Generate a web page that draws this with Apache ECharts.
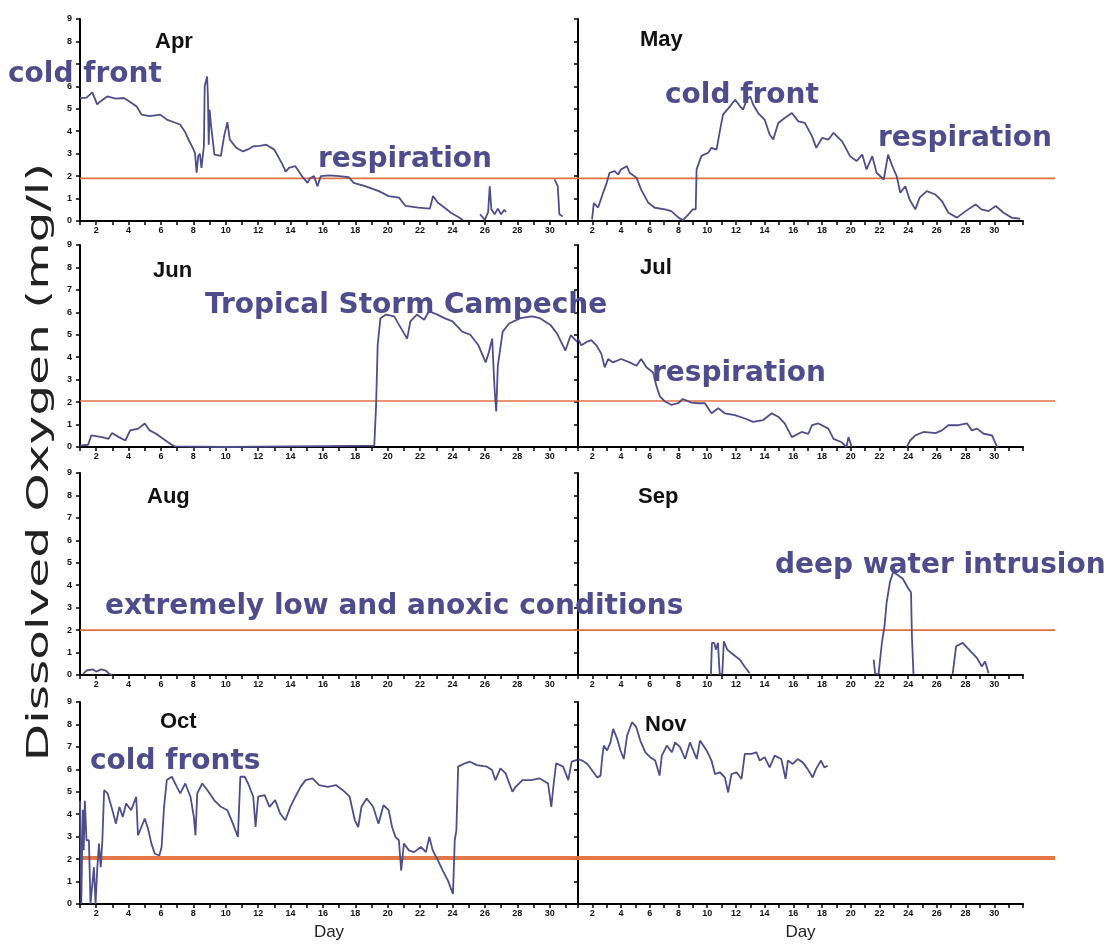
<!DOCTYPE html>
<html>
<head>
<meta charset="utf-8">
<script src="https://cdn.jsdelivr.net/npm/echarts@6/dist/echarts.min.js"></script>
<style>
html,body{margin:0;padding:0;background:#fff;}
#chart{width:1106px;height:945px;}
</style>
</head>
<body>
<div id="chart"></div>
<script>
// ---------------- data (day of month, dissolved oxygen mg/l) ----------------
const months = ['Apr','May','Jun','Jul','Aug','Sep','Oct','Nov'];
const xTickDays = [2,4,6,8,10,12,14,16,18,20,22,24,26,28,30];
const yTickLabels = [0,1,2,3,4,5,6,7,8,9];
const thresholds = [1.9, 2.05, 2.0, 2.05];

const aprDO = [[1,5.48],[1.1,5.4],[1.4,5.5],[1.76,5.73],[2.06,5.2],[2.3,5.35],[2.68,5.55],[3.2,5.45],[3.7,5.48],[4.1,5.3],[4.5,5.1],[4.8,4.74],[5.3,4.67],[5.95,4.74],[6.36,4.52],[6.8,4.4],[7.18,4.3],[7.5,3.95],[7.7,3.63],[8.0,3.2],[8.1,3.04],[8.2,2.15],[8.3,2.9],[8.4,3.0],[8.5,2.37],[8.65,3.33],[8.7,6.0],[8.85,6.44],[8.9,5.5],[8.95,3.4],[9.0,4.96],[9.1,4.2],[9.3,2.96],[9.7,2.9],[9.9,3.78],[10.1,4.4],[10.25,3.63],[10.65,3.26],[11.06,3.1],[11.4,3.2],[11.7,3.33],[12.1,3.35],[12.5,3.4],[13.0,3.18],[13.5,2.52],[13.7,2.2],[13.9,2.37],[14.3,2.44],[14.7,2.0],[15.05,1.7],[15.2,1.9],[15.45,2.0],[15.66,1.55],[15.87,2.0],[16.4,2.03],[17.0,2.0],[17.6,1.95],[17.9,1.7],[18.6,1.55],[19.45,1.33],[20.06,1.11],[20.7,1.04],[21.1,0.67],[21.9,0.6],[22.6,0.55],[22.8,1.11],[23.1,0.81],[23.5,0.6],[23.9,0.37],[24.3,0.2],[24.65,0.04],[24.7,null],[25.6,null],[25.7,0.3],[26.0,0.05],[26.2,0.4],[26.3,1.55],[26.4,0.52],[26.6,0.3],[26.8,0.55],[27.0,0.3],[27.2,0.5],[27.3,0.4],[27.35,null],[30.2,null],[30.3,1.85],[30.5,1.55],[30.6,0.3],[30.8,0.2]];

const mayDO = [[1.98,0.07],[2.1,0.8],[2.4,0.6],[2.75,1.26],[3.0,1.7],[3.2,2.15],[3.55,2.22],[3.8,2.07],[4.0,2.3],[4.4,2.44],[4.6,2.15],[5.07,1.93],[5.4,1.4],[5.9,0.81],[6.35,0.59],[7.05,0.52],[7.5,0.44],[8.0,0.15],[8.3,0.04],[8.7,0.3],[9.0,0.52],[9.2,0.52],[9.26,2.3],[9.6,2.9],[10.07,3.04],[10.3,3.26],[10.65,3.18],[10.9,4.07],[11.1,4.74],[11.5,5.04],[11.95,5.4],[12.3,5.1],[12.5,4.96],[12.75,5.4],[13.0,5.55],[13.2,5.19],[13.55,4.81],[14.0,4.52],[14.35,3.85],[14.6,3.63],[14.95,4.37],[15.4,4.59],[15.9,4.81],[16.35,4.44],[16.8,4.37],[17.3,3.78],[17.6,3.26],[18.0,3.7],[18.45,3.63],[18.8,3.93],[19.4,3.55],[19.95,2.89],[20.4,2.67],[20.8,2.96],[21.1,2.3],[21.5,2.89],[21.8,2.15],[22.3,1.85],[22.6,2.96],[22.9,2.44],[23.2,2.0],[23.45,1.26],[23.8,1.55],[24.1,0.96],[24.5,0.52],[24.8,1.04],[25.3,1.33],[25.9,1.18],[26.35,0.89],[26.8,0.37],[27.4,0.15],[28.0,0.44],[28.7,0.74],[29.1,0.52],[29.6,0.44],[30.1,0.67],[30.65,0.37],[31.2,0.15],[31.8,0.1]];

const junDO = [[1.0,0.06],[1.5,0.1],[1.7,0.52],[2.35,0.44],[2.76,0.36],[2.97,0.62],[3.4,0.44],[3.8,0.29],[4.1,0.74],[4.6,0.82],[5.0,1.05],[5.3,0.74],[5.7,0.59],[6.15,0.36],[6.66,0.1],[6.87,0.03],[10,0.0],[16.1,0.04],[19.17,0.06],[19.28,1.8],[19.38,4.53],[19.55,5.74],[19.9,5.9],[20.4,5.82],[20.7,5.44],[21.2,4.83],[21.4,5.6],[21.8,5.9],[22.25,5.67],[22.55,6.05],[23.07,5.9],[23.5,5.74],[24.0,5.6],[24.6,5.14],[25.1,5.0],[25.6,4.53],[26.05,3.77],[26.25,4.23],[26.45,4.83],[26.6,2.56],[26.7,1.58],[26.8,3.62],[27.1,5.14],[27.5,5.5],[28.2,5.74],[28.9,5.82],[29.4,5.74],[30.05,5.44],[30.45,5.06],[30.97,4.3],[31.3,4.98],[31.7,4.68]];

const julDO = [[1.0,4.83],[1.23,4.53],[1.6,4.68],[1.93,4.76],[2.28,4.53],[2.63,4.15],[2.86,3.55],[3.1,3.92],[3.44,3.77],[4.0,3.92],[4.6,3.77],[5.07,3.62],[5.4,3.92],[5.77,3.55],[6.23,3.32],[6.47,2.71],[6.7,2.26],[7.05,2.03],[7.5,1.88],[7.98,1.95],[8.3,2.14],[8.9,1.98],[9.37,1.95],[9.84,1.95],[10.3,1.5],[10.77,1.73],[11.23,1.5],[11.93,1.42],[12.63,1.27],[13.2,1.12],[13.9,1.2],[14.5,1.5],[14.95,1.35],[15.4,1.05],[15.9,0.44],[16.58,0.67],[17.05,0.59],[17.3,0.97],[17.74,1.05],[18.44,0.82],[18.8,0.36],[19.37,0.21],[19.7,0.0],[19.84,0.44],[20.07,0.0],[20.1,null],[23.85,null],[23.9,0.0],[24.14,0.29],[24.5,0.52],[25.07,0.67],[25.9,0.62],[26.35,0.74],[26.8,0.97],[27.5,0.97],[28.1,1.05],[28.44,0.74],[28.8,0.82],[29.26,0.59],[29.84,0.52],[30.2,0.0]];

const augDO = [[1.2,0.05],[1.4,0.2],[1.8,0.25],[2.0,0.15],[2.3,0.25],[2.6,0.2],[2.8,0.05],[3.0,0.0]];

const sepDO = [[10.26,0.0],[10.33,1.43],[10.5,1.43],[10.6,1.13],[10.75,1.43],[10.87,0.05],[11.05,0.05],[11.16,1.5],[11.4,1.13],[11.83,0.9],[12.28,0.68],[12.6,0.38],[12.96,0.08],[13.0,null],[21.55,null],[21.6,0.68],[21.7,0.05],[21.94,0.05],[22.17,1.43],[22.35,2.18],[22.5,3.23],[22.73,4.14],[22.96,4.59],[23.3,4.44],[23.63,4.29],[23.97,3.9],[24.2,3.68],[24.26,1.73],[24.37,0.05],[24.4,null],[27.05,null],[27.1,0.05],[27.34,1.28],[27.8,1.43],[28.24,1.13],[28.8,0.75],[29.13,0.38],[29.36,0.6],[29.6,0.08]];

const octDO = [[1.0,4.6],[1.08,0.0],[1.17,4.2],[1.23,2.4],[1.3,4.6],[1.4,2.84],[1.55,2.84],[1.65,0.0],[1.86,1.64],[1.96,0.0],[2.07,1.64],[2.17,2.69],[2.28,1.64],[2.38,2.84],[2.49,5.07],[2.7,4.93],[3.0,4.18],[3.22,3.58],[3.43,4.33],[3.64,3.88],[3.85,4.48],[4.16,4.18],[4.47,4.78],[4.58,3.06],[4.79,3.43],[5.0,3.8],[5.2,3.36],[5.41,2.69],[5.62,2.24],[5.9,2.16],[6.04,2.54],[6.19,4.33],[6.36,5.52],[6.67,5.67],[6.98,5.22],[7.19,4.93],[7.5,5.37],[7.82,4.78],[8.03,3.88],[8.13,3.06],[8.24,4.93],[8.55,5.37],[8.87,5.07],[9.28,4.63],[9.7,4.33],[10.1,4.18],[10.44,3.58],[10.75,2.99],[10.9,5.67],[11.17,5.67],[11.38,5.37],[11.7,4.78],[11.84,3.43],[12.0,4.78],[12.4,4.85],[12.7,4.33],[13.05,4.63],[13.36,4.03],[13.68,3.73],[13.99,4.33],[14.3,4.78],[14.62,5.22],[14.93,5.52],[15.35,5.6],[15.77,5.3],[16.3,5.22],[16.8,5.3],[17.23,5.07],[17.65,4.78],[17.97,3.73],[18.18,3.43],[18.38,4.33],[18.7,4.7],[19.1,4.33],[19.43,3.58],[19.74,4.4],[20.06,4.18],[20.27,3.43],[20.48,2.99],[20.69,2.84],[20.83,1.49],[21.0,2.69],[21.31,2.39],[21.63,2.31],[22.05,2.54],[22.36,2.31],[22.57,2.99],[22.78,2.39],[23.1,1.94],[23.4,1.49],[23.72,1.04],[24.03,0.45],[24.14,2.84],[24.24,3.28],[24.35,6.12],[24.77,6.27],[25.08,6.34],[25.5,6.19],[26.13,6.12],[26.44,5.97],[26.65,5.52],[26.96,6.04],[27.28,5.82],[27.7,5.0],[27.9,5.22],[28.32,5.52],[28.85,5.52],[29.37,5.6],[29.9,5.37],[30.1,4.33],[30.25,5.37],[30.4,6.27],[30.83,6.12],[31.15,5.52],[31.36,6.34],[31.7,6.42]];

const novDO = [[1.0,6.46],[1.3,6.39],[1.65,6.24],[2.0,5.94],[2.34,5.64],[2.57,5.72],[2.69,6.54],[2.8,7.06],[3.03,6.84],[3.26,7.2],[3.45,7.8],[3.73,7.36],[3.96,6.84],[4.19,6.46],[4.42,7.5],[4.76,8.1],[5.06,7.88],[5.34,7.28],[5.69,6.76],[6.03,6.54],[6.38,6.39],[6.68,5.72],[6.84,6.61],[7.19,7.06],[7.54,6.76],[7.77,7.2],[8.11,6.99],[8.46,6.46],[8.8,7.2],[9.27,6.46],[9.5,7.28],[9.96,6.84],[10.3,6.39],[10.54,5.79],[10.88,5.87],[11.23,5.64],[11.46,4.97],[11.69,5.79],[12.04,5.87],[12.39,5.57],[12.62,6.69],[13.08,6.69],[13.43,6.76],[13.66,6.39],[14.0,6.54],[14.35,6.09],[14.7,6.61],[15.16,6.46],[15.46,5.57],[15.62,6.39],[15.97,6.24],[16.3,6.46],[16.66,6.31],[17.0,6.01],[17.35,5.64],[17.58,6.01],[17.93,6.39],[18.16,6.09],[18.39,6.16]];

const monthData = [aprDO, mayDO, junDO, julDO, augDO, sepDO, octDO, novDO];

// ---------------- layout ----------------
const rowTop = [19, 245, 473, 702];
const rowH = 202;
const leftX = 80, leftW = 498, rightX = 578, rightW = 445;
const lineColor = '#4f4e8c';
const annColor = '#4e4c8c';
const refColor = '#e2703e';

const grid = [], xAxis = [], yAxis = [], series = [];

for (let i = 0; i < 8; i++) {
  const row = Math.floor(i / 2), isLeft = i % 2 === 0;
  grid.push({left: isLeft ? leftX : rightX, top: rowTop[row], width: isLeft ? leftW : rightW, height: rowH, containLabel: false});
  const bottomRow = row === 3;
  xAxis.push({
    gridIndex: i, type: 'value', min: 1, max: isLeft ? 31.75 : 32, interval: 1,
    name: bottomRow ? 'Day' : '', nameLocation: 'middle', nameGap: 20,
    nameTextStyle: {fontFamily: 'Liberation Sans', fontSize: 17, color: '#222'},
    axisLine: {show: true, lineStyle: {color: '#000', width: 2}},
    axisTick: {show: true, length: 4, lineStyle: {color: '#000', width: 1.5}},
    axisLabel: {show: true, margin: 5, fontSize: 9, fontWeight: 'bold', color: '#111', fontFamily: 'Liberation Sans',
      formatter: v => xTickDays.indexOf(v) >= 0 ? String(v) : ''},
    splitLine: {show: false}
  });
  yAxis.push({
    gridIndex: i, type: 'value', min: 0, max: 9, interval: 1,
    axisLine: {show: true, lineStyle: {color: '#000', width: 2}},
    axisTick: {show: true, length: 4, lineStyle: {color: '#000', width: 1.5}},
    axisLabel: {show: isLeft, margin: 8, fontSize: 9, fontWeight: 'bold', color: '#111', fontFamily: 'Liberation Sans',
      formatter: v => yTickLabels.indexOf(v) >= 0 ? String(v) : ''},
    splitLine: {show: false}
  });
  series.push({
    type: 'line', xAxisIndex: i, yAxisIndex: i, data: monthData[i], name: months[i],
    showSymbol: false, symbol: 'none', connectNulls: false, animation: false, z: 3,
    lineStyle: {color: lineColor, width: 1.8}
  });
}

// reference (hypoxia) line spanning each full row
for (let r = 0; r < 4; r++) {
  const gi = grid.length;
  grid.push({left: leftX, top: rowTop[r], width: 975, height: rowH});
  xAxis.push({gridIndex: gi, type: 'value', min: 0, max: 1, show: false});
  yAxis.push({gridIndex: gi, type: 'value', min: 0, max: 9, show: false});
  series.push({
    type: 'line', xAxisIndex: gi, yAxisIndex: gi, data: [[0, thresholds[r]], [1, thresholds[r]]],
    showSymbol: false, symbol: 'none', animation: false, z: 1, silent: true,
    lineStyle: {color: refColor, width: r === 3 ? 4 : 1.6, opacity: r === 3 ? 0.95 : 1}
  });
}

// ---------------- texts ----------------
const monthPos = [[155,42],[640,40],[153,271],[640,268],[147,497],[638,497],[160,722],[645,725]];
const annotations = [
  {t: 'cold front', x: 8, y: 75},
  {t: 'cold front', x: 665, y: 96},
  {t: 'respiration', x: 318, y: 160},
  {t: 'respiration', x: 878, y: 139},
  {t: 'Tropical Storm Campeche', x: 205, y: 306},
  {t: 'respiration', x: 652, y: 374},
  {t: 'extremely low and anoxic conditions', x: 105, y: 607},
  {t: 'deep water intrusion', x: 775, y: 566},
  {t: 'cold fronts', x: 90, y: 762}
];

const graphic = [];
months.forEach((m, i) => {
  graphic.push({type: 'text', x: monthPos[i][0], y: monthPos[i][1], z: 10,
    style: {text: m, font: 'bold 22px "Liberation Sans", Arial, sans-serif', fill: '#111', verticalAlign: 'middle', textVerticalAlign: 'middle'}});
});
annotations.forEach(a => {
  graphic.push({type: 'text', x: a.x, y: a.y, z: 10,
    style: {text: a.t, font: 'bold 28px "DejaVu Sans", sans-serif', fill: annColor, verticalAlign: 'middle', textVerticalAlign: 'middle'}});
});
graphic.push({type: 'text', x: 40, y: 462, rotation: Math.PI / 2, scaleX: 1.62, scaleY: 1, z: 10,
  style: {text: 'Dissolved Oxygen (mg/l)', font: '30px "DejaVu Sans", sans-serif', fill: '#222',
    align: 'center', textAlign: 'center', verticalAlign: 'middle', textVerticalAlign: 'middle'}});

const chart = echarts.init(document.getElementById('chart'), null, {renderer: 'canvas'});
chart.setOption({
  backgroundColor: '#fff',
  animation: false,
  grid, xAxis, yAxis, series, graphic
});
</script>
</body>
</html>
